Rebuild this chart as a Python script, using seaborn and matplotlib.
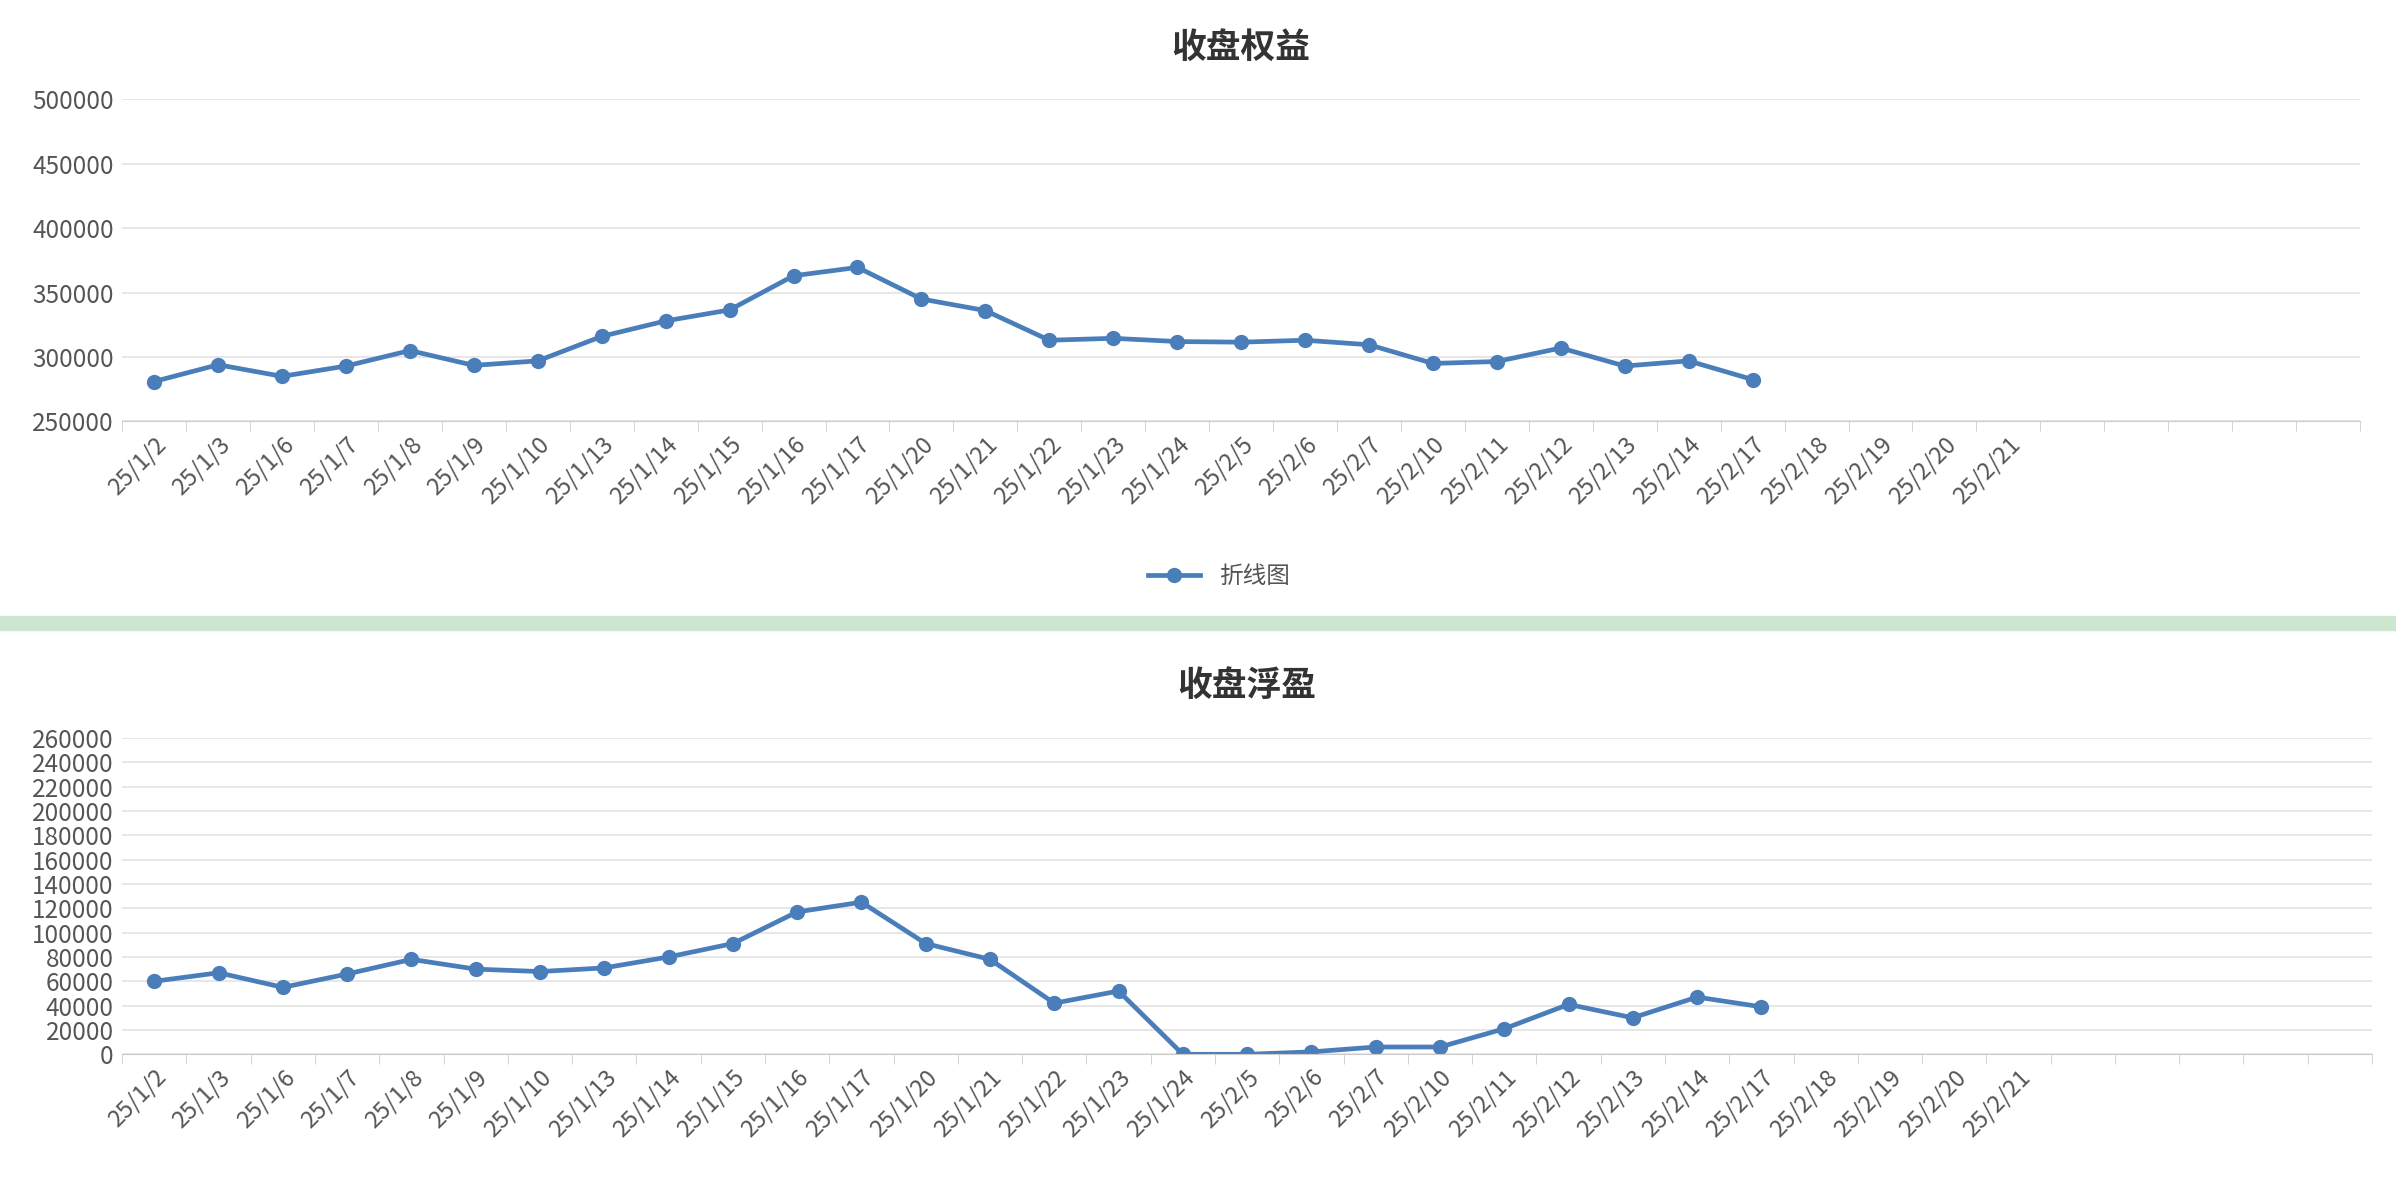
import numpy as np
import pandas as pd
import matplotlib
matplotlib.use("Agg")
import matplotlib.pyplot as plt
import seaborn as sns

plt.rcParams["font.family"] = ["Noto Sans CJK SC", "DejaVu Sans"]

# ── data ──────────────────────────────────────────────
dates = ["25/1/2", "25/1/3", "25/1/6", "25/1/7", "25/1/8", "25/1/9", "25/1/10",
         "25/1/13", "25/1/14", "25/1/15", "25/1/16", "25/1/17", "25/1/20", "25/1/21",
         "25/1/22", "25/1/23", "25/1/24", "25/2/5", "25/2/6", "25/2/7", "25/2/10",
         "25/2/11", "25/2/12", "25/2/13", "25/2/14", "25/2/17", "25/2/18", "25/2/19",
         "25/2/20", "25/2/21", "", "", "", "", ""]
equity = [281000, 294000, 285000, 293000, 305000, 293500, 297000, 316000, 328000,
          336500, 363000, 369500, 345000, 336000, 313000, 314500, 312000, 311500,
          313000, 309500, 295000, 296500, 307000, 293000, 297000, 282500]
float_pnl = [60000, 67000, 55000, 66000, 78000, 70000, 68000, 71000, 80000, 91000,
             117000, 125000, 91000, 78000, 42000, 52000, 0, 0, 2000, 6000, 6000,
             21000, 41000, 30000, 47000, 39000]

LINE = "#4a7ebb"
TXT = "#555555"

fig = plt.figure(figsize=(23.96, 11.94), dpi=100)
# green separator strip between panels
fig.patches.append(plt.Rectangle((0, 0.472), 1, 0.012, transform=fig.transFigure,
                                 color="#cde6cf", zorder=0))


def panel(rect, values, title, yticks, ylim, legend):
    ax = fig.add_axes(rect)
    df = pd.DataFrame({"x": np.arange(len(values)), "y": values})
    sns.lineplot(data=df, x="x", y="y", ax=ax, color=LINE, lw=3.4, marker="o",
                 markersize=11, markeredgewidth=0, label="折线图" if legend else None)
    ax.set_xlim(-0.5, len(dates) - 0.5)
    ax.set_ylim(*ylim)
    ax.set_yticks(yticks)
    ax.set_yticklabels([str(v) for v in yticks], fontsize=17.5, color=TXT)
    ax.set_xticks(np.arange(len(dates)))
    ax.set_xticklabels(dates, rotation=45, ha="right", rotation_mode="anchor",
                       fontsize=17, color=TXT)
    ax.set_xticks(np.arange(len(dates) + 1) - 0.5, minor=True)
    ax.tick_params(axis="x", which="major", length=0, pad=8)
    ax.tick_params(axis="x", which="minor", length=7, color="#cccccc")
    ax.tick_params(axis="y", length=0, pad=6)
    ax.grid(True, axis="y", color="#e3e3e3", lw=1.2)
    ax.set_axisbelow(True)
    for s in ["top", "right", "left"]:
        ax.spines[s].set_visible(False)
    ax.spines["bottom"].set_color("#cccccc")
    ax.set_xlabel("")
    ax.set_ylabel("")
    ax.set_title(title, fontsize=25, fontweight="bold", color="#333333", pad=30)
    if legend:
        ax.legend(loc="upper center", bbox_to_anchor=(0.49, -0.38), frameon=False,
                  fontsize=17, labelcolor=TXT, handlelength=2.2)
    return ax


panel([0.051, 0.647, 0.934, 0.270], equity, "收盘权益",
      list(range(250000, 500001, 50000)), (250000, 500000), True)
panel([0.051, 0.117, 0.939, 0.265], float_pnl, "收盘浮盈",
      list(range(0, 260001, 20000)), (0, 260000), False)

fig.savefig("out.png", dpi=100)
